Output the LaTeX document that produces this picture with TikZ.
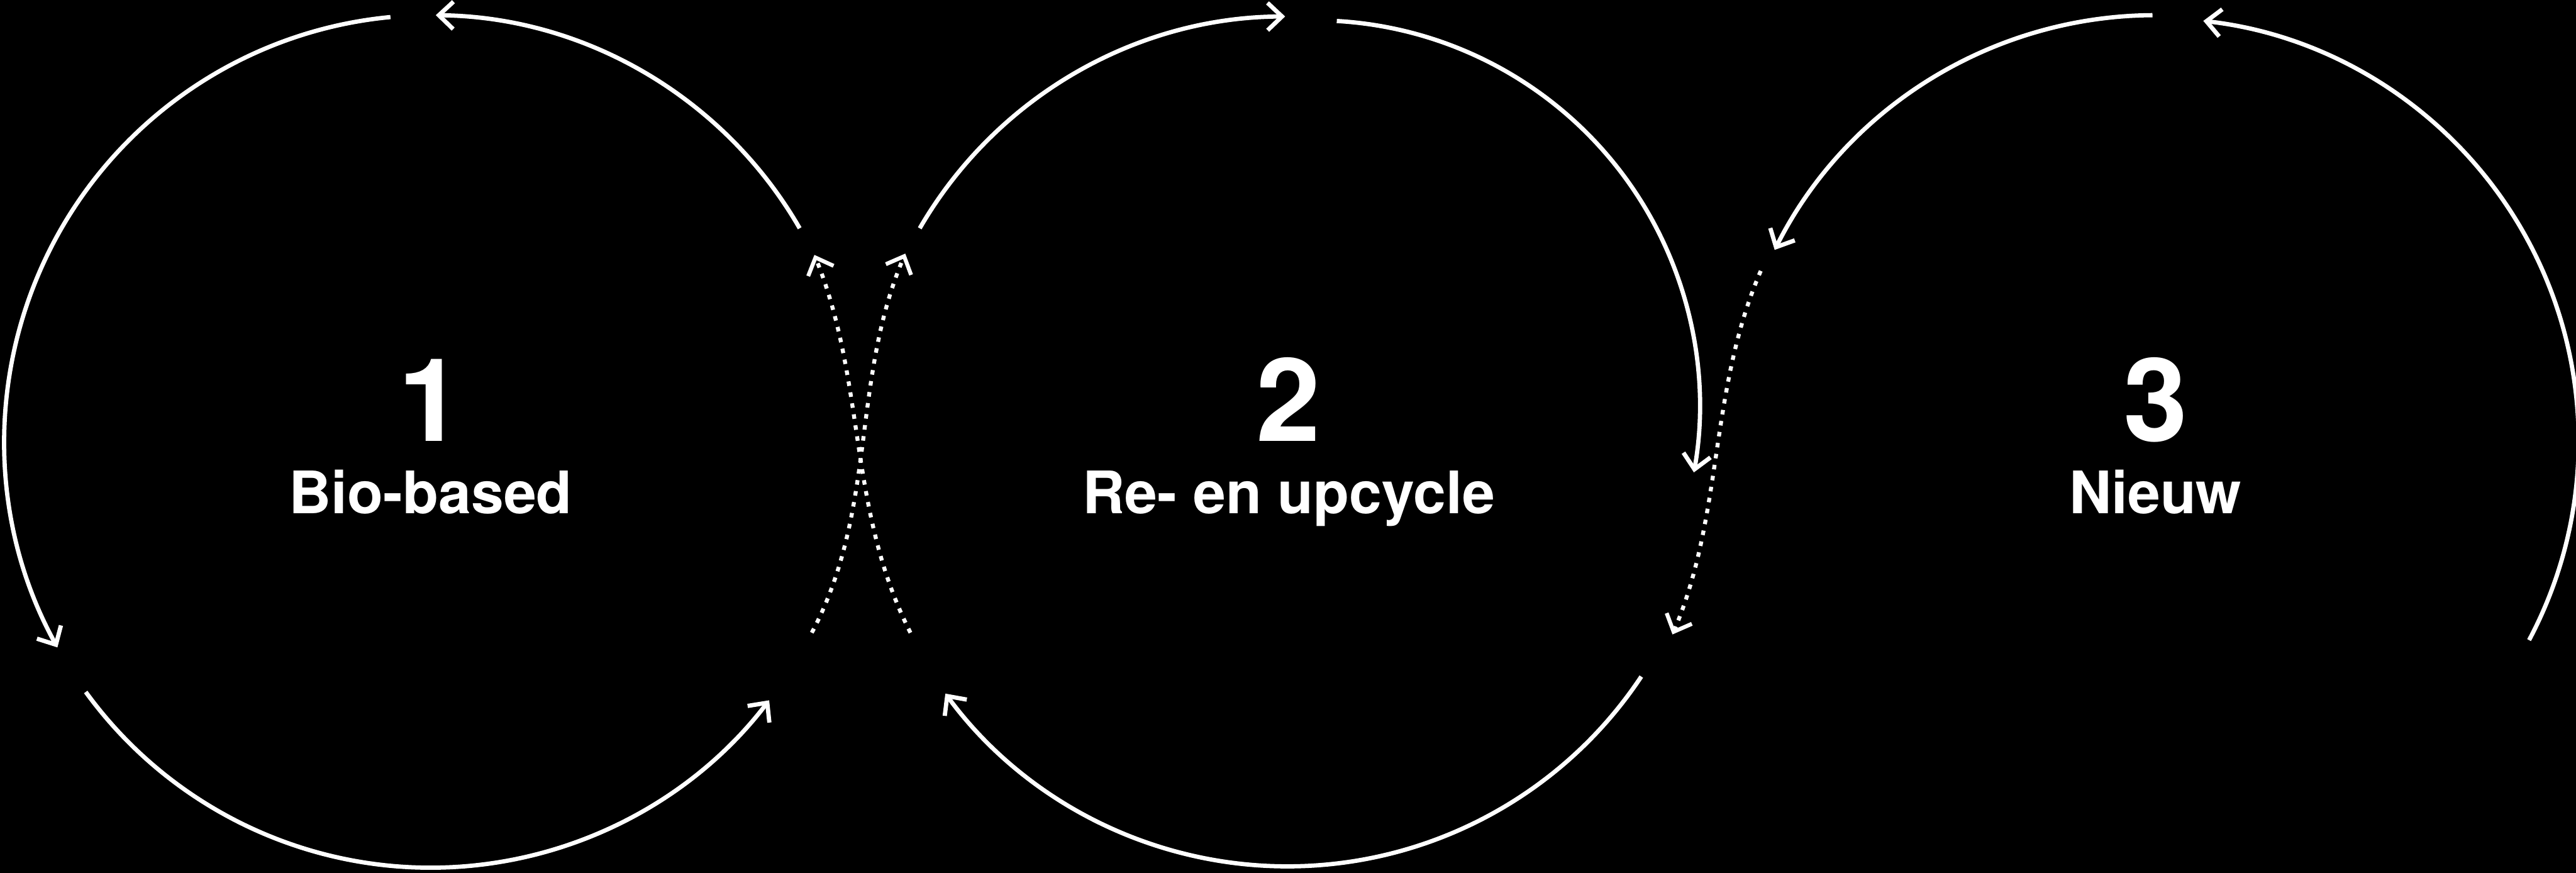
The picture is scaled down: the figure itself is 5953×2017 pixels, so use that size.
\documentclass[tikz,border=0pt]{standalone}
\usepackage{fontspec}
\setmainfont{TeX Gyre Heros}
\usetikzlibrary{arrows.meta}
\begin{document}
\begin{tikzpicture}[x=0.01cm,y=0.01cm,
  flow/.style={draw=white, line width=2.8pt, -{Straight Barb[length=9.5pt,width=18pt]}},
  dotflow/.style={flow, line width=2.6pt, dash pattern=on 3pt off 4.3pt},
  num/.style={text=white, font=\fontsize{76}{80}\selectfont\bfseries, anchor=base, inner sep=0pt},
  lbl/.style={text=white, font=\fontsize{38.5}{42}\selectfont\bfseries, anchor=base, inner sep=0pt}]
\fill[black] (0,0) rectangle (5953,2017);
\useasboundingbox (0,0) rectangle (5953,2017);
\clip (0,0) rectangle (5953,2017);
% centres
\coordinate (C1) at (995,997);
\coordinate (C2) at (2975,997);
\coordinate (C2b) at (3038,1080);
\coordinate (C3) at (4981,997);
% texts
\node[num] (n1) at (995,997) {1};
\node[lbl] (l1) at (995,831) {Bio-based};
\node[num] (n2) at (2978,997) {2};
\node[lbl] (l2) at (2978,831) {Re- en upcycle};
\node[num] (n3) at (4981,997) {3};
\node[lbl] (l3) at (4981,831) {Nieuw};
% circle 1 (counter-clockwise)
\coordinate (s1a) at ([shift={(30:985)}]C1);
\coordinate (s1b) at ([shift={(95.4:985)}]C1);
\coordinate (s1c) at ([shift={(216:985)}]C1);
\draw[flow] (s1a) arc[start angle=30,end angle=89.3,radius=985];
\draw[flow] (s1b) arc[start angle=95.4,end angle=208.9,radius=985];
\draw[flow] (s1c) arc[start angle=216,end angle=322.6,radius=985];
% circle 2 (clockwise)
\coordinate (s2a) at ([shift={(149.9:982)}]C2);
\coordinate (s2b) at ([shift={(86.7:890)}]C2b);
\coordinate (s2c) at ([shift={(-33.6:982)}]C2);
\draw[flow] (s2a) arc[start angle=149.9,end angle=90.3,radius=982];
\draw[flow] (s2b) arc[start angle=86.7,end angle=-10,radius=890];
\draw[flow] (s2c) arc[start angle=-33.6,end angle=-143.6,radius=982];
% circle 3 (counter-clockwise)
\coordinate (s3a) at ([shift={(90.4:985)}]C3);
\coordinate (s3b) at ([shift={(-28:978)}]C3);
\draw[flow] (s3a) arc[start angle=90.4,end angle=153.3,radius=985];
\draw[flow] (s3b) arc[start angle=-28,end angle=83.5,radius=978];
% dotted crossings
\coordinate (a0) at (2104,555);
\coordinate (a1) at (1882,1428);
\coordinate (b0) at (1876,555);
\coordinate (b1) at (2092,1431);
\coordinate (c0) at (4069,1391);
\coordinate (c1) at (3865,551);
\draw[dotflow] (a0) to[out=117,in=-68,looseness=0.91] (a1);
\draw[dotflow] (b0) to[out=62,in=-113,looseness=0.91] (b1);
\draw[dotflow] (c0) to[out=-113.4,in=67,looseness=0.89] (c1);
\end{tikzpicture}
\end{document}
